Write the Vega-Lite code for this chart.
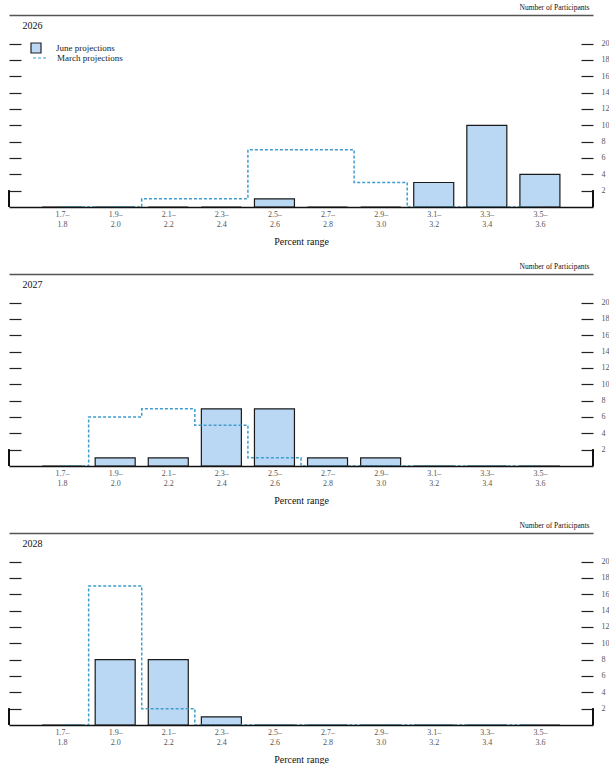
{
  "$schema": "https://vega.github.io/schema/vega-lite/v6.json",
  "description": "Histogram of participants' projections by percent range, June vs March.",
  "padding": {"top": 3, "left": 8, "right": 0, "bottom": 0},
  "background": "white",
  "spacing": 16,
  "config": {
    "font": "Liberation Serif",
    "view": {"stroke": null},
    "axis": {"grid": false, "labelFont": "Liberation Serif", "titleFont": "Liberation Serif"},
    "legend": {"labelFont": "Liberation Serif"}
  },
  "data": {
    "values": [
      {"year": 2026, "low": 1.7, "june": 0, "march": 0},
      {"year": 2026, "low": 1.9, "june": 0, "march": 0},
      {"year": 2026, "low": 2.1, "june": 0, "march": 1},
      {"year": 2026, "low": 2.3, "june": 0, "march": 1},
      {"year": 2026, "low": 2.5, "june": 1, "march": 7},
      {"year": 2026, "low": 2.7, "june": 0, "march": 7},
      {"year": 2026, "low": 2.9, "june": 0, "march": 3},
      {"year": 2026, "low": 3.1, "june": 3, "march": 0},
      {"year": 2026, "low": 3.3, "june": 10, "march": 0},
      {"year": 2026, "low": 3.5, "june": 4, "march": 0},
      {"year": 2027, "low": 1.7, "june": 0, "march": 0},
      {"year": 2027, "low": 1.9, "june": 1, "march": 6},
      {"year": 2027, "low": 2.1, "june": 1, "march": 7},
      {"year": 2027, "low": 2.3, "june": 7, "march": 5},
      {"year": 2027, "low": 2.5, "june": 7, "march": 1},
      {"year": 2027, "low": 2.7, "june": 1, "march": 0},
      {"year": 2027, "low": 2.9, "june": 1, "march": 0},
      {"year": 2027, "low": 3.1, "june": 0, "march": 0},
      {"year": 2027, "low": 3.3, "june": 0, "march": 0},
      {"year": 2027, "low": 3.5, "june": 0, "march": 0},
      {"year": 2028, "low": 1.7, "june": 0, "march": 0},
      {"year": 2028, "low": 1.9, "june": 8, "march": 17},
      {"year": 2028, "low": 2.1, "june": 8, "march": 2},
      {"year": 2028, "low": 2.3, "june": 1, "march": 0},
      {"year": 2028, "low": 2.5, "june": 0, "march": 0},
      {"year": 2028, "low": 2.7, "june": 0, "march": 0},
      {"year": 2028, "low": 2.9, "june": 0, "march": 0},
      {"year": 2028, "low": 3.1, "june": 0, "march": 0},
      {"year": 2028, "low": 3.3, "june": 0, "march": 0},
      {"year": 2028, "low": 3.5, "june": 0, "march": 0}
    ]
  },
  "vconcat": [
    {
      "transform": [{"filter": "datum.year == 2026"}],
      "width": 584,
      "height": 192,
      "resolve": {"axis": {"x": "independent", "y": "independent"}},
      "layer": [
        {
          "mark": {"type": "bar", "orient": "vertical", "size": 40, "stroke": "#1a1a1a", "strokeWidth": 1.2},
          "encoding": {
            "x": {"field": "low", "type": "quantitative", "scale": {"domain": [1.5, 3.7], "nice": false, "zero": false, "padding": 0},
              "axis": {"orient": "bottom", "values": [1.7, 1.9, 2.1, 2.3, 2.5, 2.7, 2.9, 3.1, 3.3, 3.5],
                "labelExpr": "[format(datum.value, '.1f') + '–', format(datum.value + 0.1, '.1f')]",
                "ticks": false, "labelPadding": 3, "labelBaseline": "top", "labelLineHeight": 10,
                "labelFontSize": 8, "labelColor": "#555", "domainColor": "#111", "domainWidth": 1.5, "zindex": 1,
                "title": "Percent range", "titleFontSize": 10, "titleFontWeight": "normal", "titleColor": "#111", "titlePadding": 8}},
            "y": {"field": "june", "type": "quantitative", "scale": {"domain": [0, 23.5], "nice": false},
              "axis": {"orient": "left", "values": [2, 4, 6, 8, 10, 12, 14, 16, 18, 20], "labels": false, "domain": false,
                "tickSize": -12, "tickColor": "#222", "tickWidth": 1.2,
                "title": "2026", "titleAngle": 0, "titleX": 13, "titleY": 10, "titleAlign": "left", "titleBaseline": "middle",
                "titleFontSize": 10, "titleFontWeight": "normal", "titleColor": "#111"}},
            "fill": {"datum": "June projections", "type": "nominal", "scale": {"range": ["#bad8f4"]},
              "legend": {"orient": "none", "legendX": 21, "legendY": 27, "title": null, "symbolType": "square", "symbolSize": 100,
                "symbolStrokeColor": "#222", "symbolStrokeWidth": 1.2, "labelFontSize": 9, "labelColor": "#222", "labelOffset": 14}}
          }
        },
        {
          "mark": {"type": "line", "interpolate": "step", "strokeWidth": 1.5, "strokeDash": [3, 2]},
          "encoding": {
            "x": {"field": "low", "type": "quantitative",
              "axis": {"orient": "top", "labels": false, "ticks": false, "title": null, "domainColor": "#555", "domainWidth": 1.5}},
            "y": {"field": "march", "type": "quantitative",
              "axis": {"orient": "right", "values": [2, 4, 6, 8, 10, 12, 14, 16, 18, 20], "domain": false,
                "tickSize": -12, "tickColor": "#222", "tickWidth": 1.2, "labelPadding": 20, "labelFontSize": 8, "labelColor": "#555",
                "title": "Number of Participants", "titleAngle": 0, "titleX": -4, "titleY": -4, "titleAlign": "right", "titleBaseline": "bottom",
                "titleFontSize": 7.5, "titleFontWeight": "normal", "titleColor": "#111"}},
            "stroke": {"datum": "March projections", "type": "nominal", "scale": {"range": ["#3f9ccd"]},
              "legend": {"orient": "none", "legendX": 23, "legendY": 35, "title": null, "symbolType": "stroke", "symbolSize": 196,
                "symbolDash": [3, 2], "symbolStrokeWidth": 1.2, "labelFontSize": 9, "labelColor": "#222", "labelOffset": 9}}
          }
        },
        {
          "mark": {"type": "rule", "stroke": "#111", "strokeWidth": 1.5},
          "encoding": {"x": {"datum": 1.5, "axis": null}, "y": {"datum": 0, "axis": null}, "y2": {"datum": 2}}
        },
        {
          "mark": {"type": "rule", "stroke": "#111", "strokeWidth": 1.5},
          "encoding": {"x": {"datum": 3.7, "axis": null}, "y": {"datum": 0, "axis": null}, "y2": {"datum": 2}}
        }
      ]
    },
    {
      "transform": [{"filter": "datum.year == 2027"}],
      "width": 584,
      "height": 192,
      "resolve": {"axis": {"x": "independent", "y": "independent"}},
      "layer": [
        {
          "mark": {"type": "bar", "orient": "vertical", "size": 40, "fill": "#bad8f4", "stroke": "#1a1a1a", "strokeWidth": 1.2},
          "encoding": {
            "x": {"field": "low", "type": "quantitative", "scale": {"domain": [1.5, 3.7], "nice": false, "zero": false, "padding": 0},
              "axis": {"orient": "bottom", "values": [1.7, 1.9, 2.1, 2.3, 2.5, 2.7, 2.9, 3.1, 3.3, 3.5],
                "labelExpr": "[format(datum.value, '.1f') + '–', format(datum.value + 0.1, '.1f')]",
                "ticks": false, "labelPadding": 3, "labelBaseline": "top", "labelLineHeight": 10,
                "labelFontSize": 8, "labelColor": "#555", "domainColor": "#111", "domainWidth": 1.5, "zindex": 1,
                "title": "Percent range", "titleFontSize": 10, "titleFontWeight": "normal", "titleColor": "#111", "titlePadding": 8}},
            "y": {"field": "june", "type": "quantitative", "scale": {"domain": [0, 23.5], "nice": false},
              "axis": {"orient": "left", "values": [2, 4, 6, 8, 10, 12, 14, 16, 18, 20], "labels": false, "domain": false,
                "tickSize": -12, "tickColor": "#222", "tickWidth": 1.2,
                "title": "2027", "titleAngle": 0, "titleX": 13, "titleY": 10, "titleAlign": "left", "titleBaseline": "middle",
                "titleFontSize": 10, "titleFontWeight": "normal", "titleColor": "#111"}}
          }
        },
        {
          "mark": {"type": "line", "interpolate": "step", "strokeWidth": 1.5, "strokeDash": [3, 2], "stroke": "#3f9ccd"},
          "encoding": {
            "x": {"field": "low", "type": "quantitative",
              "axis": {"orient": "top", "labels": false, "ticks": false, "title": null, "domainColor": "#555", "domainWidth": 1.5}},
            "y": {"field": "march", "type": "quantitative",
              "axis": {"orient": "right", "values": [2, 4, 6, 8, 10, 12, 14, 16, 18, 20], "domain": false,
                "tickSize": -12, "tickColor": "#222", "tickWidth": 1.2, "labelPadding": 20, "labelFontSize": 8, "labelColor": "#555",
                "title": "Number of Participants", "titleAngle": 0, "titleX": -4, "titleY": -4, "titleAlign": "right", "titleBaseline": "bottom",
                "titleFontSize": 7.5, "titleFontWeight": "normal", "titleColor": "#111"}}
          }
        },
        {
          "mark": {"type": "rule", "stroke": "#111", "strokeWidth": 1.5},
          "encoding": {"x": {"datum": 1.5, "axis": null}, "y": {"datum": 0, "axis": null}, "y2": {"datum": 2}}
        },
        {
          "mark": {"type": "rule", "stroke": "#111", "strokeWidth": 1.5},
          "encoding": {"x": {"datum": 3.7, "axis": null}, "y": {"datum": 0, "axis": null}, "y2": {"datum": 2}}
        }
      ]
    },
    {
      "transform": [{"filter": "datum.year == 2028"}],
      "width": 584,
      "height": 192,
      "resolve": {"axis": {"x": "independent", "y": "independent"}},
      "layer": [
        {
          "mark": {"type": "bar", "orient": "vertical", "size": 40, "fill": "#bad8f4", "stroke": "#1a1a1a", "strokeWidth": 1.2},
          "encoding": {
            "x": {"field": "low", "type": "quantitative", "scale": {"domain": [1.5, 3.7], "nice": false, "zero": false, "padding": 0},
              "axis": {"orient": "bottom", "values": [1.7, 1.9, 2.1, 2.3, 2.5, 2.7, 2.9, 3.1, 3.3, 3.5],
                "labelExpr": "[format(datum.value, '.1f') + '–', format(datum.value + 0.1, '.1f')]",
                "ticks": false, "labelPadding": 3, "labelBaseline": "top", "labelLineHeight": 10,
                "labelFontSize": 8, "labelColor": "#555", "domainColor": "#111", "domainWidth": 1.5, "zindex": 1,
                "title": "Percent range", "titleFontSize": 10, "titleFontWeight": "normal", "titleColor": "#111", "titlePadding": 8}},
            "y": {"field": "june", "type": "quantitative", "scale": {"domain": [0, 23.5], "nice": false},
              "axis": {"orient": "left", "values": [2, 4, 6, 8, 10, 12, 14, 16, 18, 20], "labels": false, "domain": false,
                "tickSize": -12, "tickColor": "#222", "tickWidth": 1.2,
                "title": "2028", "titleAngle": 0, "titleX": 13, "titleY": 10, "titleAlign": "left", "titleBaseline": "middle",
                "titleFontSize": 10, "titleFontWeight": "normal", "titleColor": "#111"}}
          }
        },
        {
          "mark": {"type": "line", "interpolate": "step", "strokeWidth": 1.5, "strokeDash": [3, 2], "stroke": "#3f9ccd"},
          "encoding": {
            "x": {"field": "low", "type": "quantitative",
              "axis": {"orient": "top", "labels": false, "ticks": false, "title": null, "domainColor": "#555", "domainWidth": 1.5}},
            "y": {"field": "march", "type": "quantitative",
              "axis": {"orient": "right", "values": [2, 4, 6, 8, 10, 12, 14, 16, 18, 20], "domain": false,
                "tickSize": -12, "tickColor": "#222", "tickWidth": 1.2, "labelPadding": 20, "labelFontSize": 8, "labelColor": "#555",
                "title": "Number of Participants", "titleAngle": 0, "titleX": -4, "titleY": -4, "titleAlign": "right", "titleBaseline": "bottom",
                "titleFontSize": 7.5, "titleFontWeight": "normal", "titleColor": "#111"}}
          }
        },
        {
          "mark": {"type": "rule", "stroke": "#111", "strokeWidth": 1.5},
          "encoding": {"x": {"datum": 1.5, "axis": null}, "y": {"datum": 0, "axis": null}, "y2": {"datum": 2}}
        },
        {
          "mark": {"type": "rule", "stroke": "#111", "strokeWidth": 1.5},
          "encoding": {"x": {"datum": 3.7, "axis": null}, "y": {"datum": 0, "axis": null}, "y2": {"datum": 2}}
        }
      ]
    }
  ]
}
